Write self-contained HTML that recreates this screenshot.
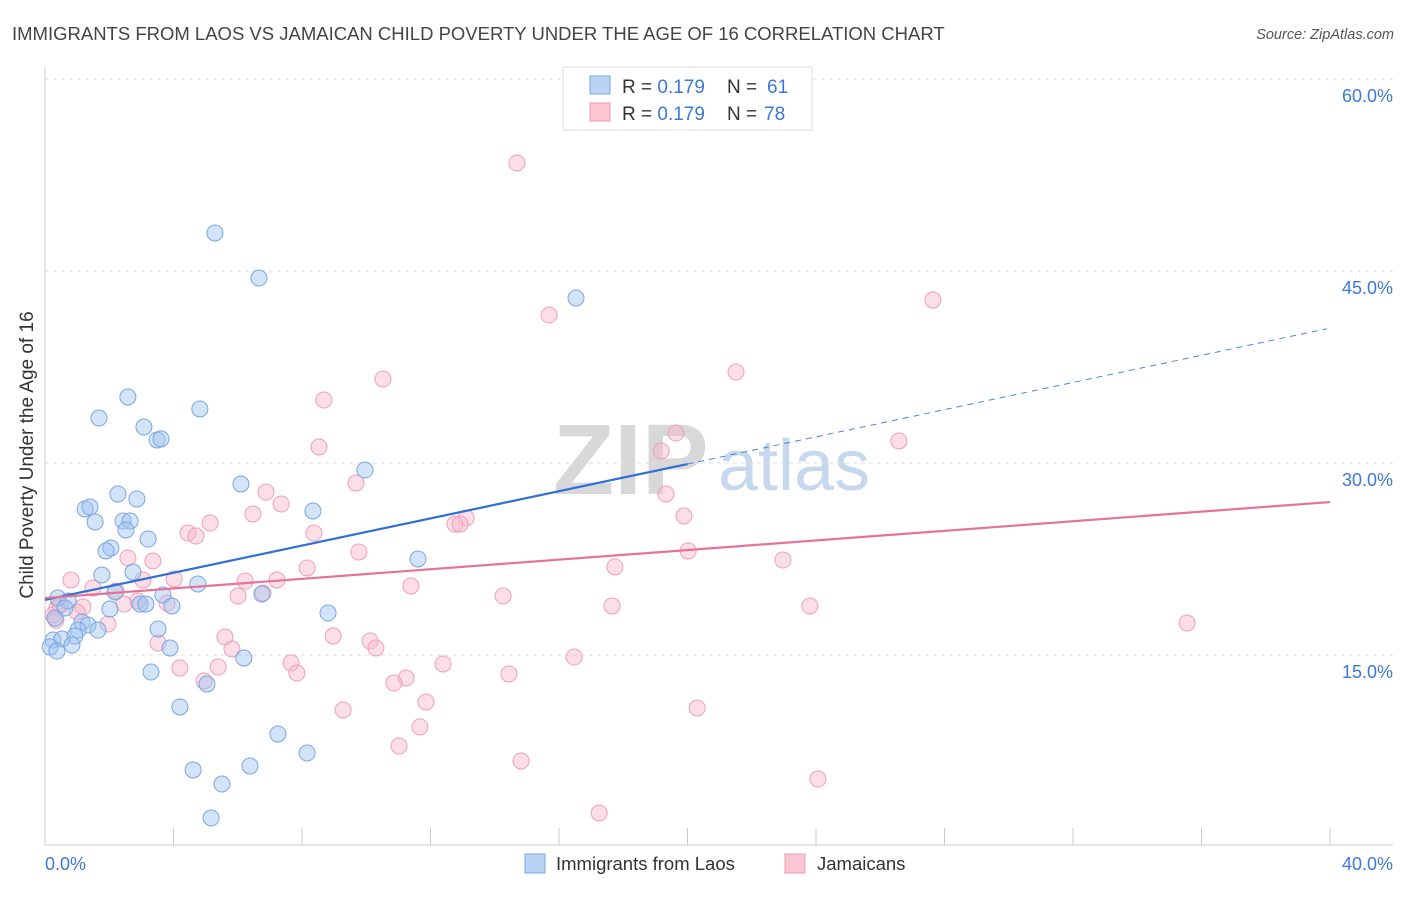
<!DOCTYPE html>
<html><head><meta charset="utf-8"><style>
body{margin:0;background:#fff;font-family:"Liberation Sans",sans-serif;}
svg text{font-family:"Liberation Sans",sans-serif;}
</style></head><body>
<svg id="chart" width="1406" height="892">
<text x="12" y="40" font-size="18.5" fill="#444">IMMIGRANTS FROM LAOS VS JAMAICAN CHILD POVERTY UNDER THE AGE OF 16 CORRELATION CHART</text>
<text x="1394" y="39" font-size="14.5" fill="#555" font-style="italic" text-anchor="end">Source: ZipAtlas.com</text>
<g>
<text x="553" y="494" font-size="100" fill="#d8d8d8" font-family="Liberation Serif,serif" font-weight="bold">ZIP</text>
<text x="718" y="490" font-size="72" fill="#c6d8ee">atlas</text>
</g>
<g id="grid"></g><g id="pts"></g><g id="lines"></g>
<text x="33" y="455" font-size="19" fill="#333" text-anchor="middle" transform="rotate(-90 33 455)">Child Poverty Under the Age of 16</text>
<g>
<rect x="563" y="67" width="249" height="63" fill="#fff" stroke="#ddd"/>
<rect x="590" y="76" width="20" height="18" fill="#b9d3f5" stroke="#7ba7e0"/>
<rect x="590" y="103" width="20" height="18" fill="#fac5d5" stroke="#ee9ab5"/>
<text x="622" y="93" font-size="19" fill="#333">R = <tspan fill="#3b78d8">0.179</tspan></text>
<text x="727" y="93" font-size="19" fill="#333">N = </text><text x="767" y="93" font-size="19" fill="#3b78d8">61</text>
<text x="622" y="120" font-size="19" fill="#333">R = <tspan fill="#3b78d8">0.179</tspan></text>
<text x="727" y="120" font-size="19" fill="#333">N = </text><text x="764" y="120" font-size="19" fill="#3b78d8">78</text>
</g>
<g>
<rect x="525" y="854" width="20" height="19" fill="#b9d3f5" stroke="#7ba7e0"/>
<text x="556" y="870" font-size="18.5" fill="#333">Immigrants from Laos</text>
<rect x="785" y="854" width="20" height="19" fill="#fac5d5" stroke="#ee9ab5"/>
<text x="817" y="870" font-size="18.5" fill="#333">Jamaicans</text>
</g>
</svg>
<script>
const xTicks=[0,4,8,12,16,20,24,28,32,36,40];
const yTicks=[15,30,45,60];
const yTickLabels=["15.0%","30.0%","45.0%","60.0%"];
const xEndLabels=["0.0%","40.0%"];
const laosX=[5.29,6.66,16.53,2.58,1.68,4.82,3.08,3.49,3.61,9.96,6.10,2.27,2.86,1.25,1.40,1.56,2.43,2.65,2.52,8.34,3.21,2.05,1.90,11.61,2.74,1.77,4.76,2.18,3.67,0.40,0.72,6.75,2.96,3.14,3.95,0.62,2.02,8.81,1.15,1.34,0.31,1.65,1.03,0.93,3.52,0.25,0.53,0.84,0.16,0.37,3.89,6.19,3.30,5.04,4.20,7.25,8.16,4.61,6.38,5.51,5.17];
const laosY=[47.97,44.45,42.89,35.16,33.52,34.22,32.81,31.80,31.88,29.45,28.36,27.58,27.19,26.41,26.56,25.39,25.47,25.47,24.77,26.25,24.06,23.36,23.13,22.5,21.48,21.25,20.55,19.92,19.69,19.45,19.22,19.77,18.98,18.98,18.83,18.67,18.59,18.28,17.58,17.34,17.89,16.95,16.95,16.48,17.03,16.17,16.25,15.78,15.63,15.31,15.55,14.77,13.67,12.73,10.94,8.83,7.34,6.02,6.33,4.92,2.27];
const jamX=[14.69,27.64,15.69,10.52,21.51,8.68,8.53,19.64,26.58,19.18,9.68,19.33,6.88,7.35,6.47,5.14,19.89,13.11,12.76,12.92,4.45,4.70,8.37,20.02,9.77,2.58,3.36,22.97,0.81,17.74,8.16,7.22,6.23,4.02,1.49,3.05,11.39,2.21,14.26,6.01,6.79,17.65,23.81,2.89,3.80,0.37,1.18,2.46,1.00,0.25,1.96,8.97,5.60,3.52,10.12,10.30,5.82,35.55,16.47,12.39,7.66,4.20,7.84,5.39,14.44,11.24,10.86,4.95,11.86,9.28,20.30,11.67,11.02,14.82,24.06,17.25,0.34,0.47];
const jamY=[53.44,42.73,41.56,36.56,37.11,34.92,31.25,32.34,31.72,30.94,28.44,27.58,27.73,26.80,26.02,25.31,25.86,25.70,25.23,25.23,24.53,24.30,24.53,23.13,23.05,22.58,22.34,22.42,20.86,21.88,21.80,20.86,20.78,20.94,20.23,20.86,20.39,20.0,19.61,19.61,19.84,18.83,18.83,19.22,19.06,18.67,18.75,18.98,18.36,18.13,17.42,16.48,16.41,15.94,16.09,15.55,15.47,17.50,14.84,14.30,14.38,13.98,13.59,14.06,13.52,13.20,12.81,12.97,11.33,10.70,10.86,9.38,7.89,6.72,5.31,2.66,17.73,18.91];
const laosTrend=[19.30,0.531];
const jamTrend=[19.45,0.1875];
const NS="http://www.w3.org/2000/svg";
const sx=v=>45+v*1285/40, sy=v=>847-v*12.8;
function mk(tag,attrs,parent){const e=document.createElementNS(NS,tag);for(const k in attrs)e.setAttribute(k,attrs[k]);parent.appendChild(e);return e;}
const grid=document.getElementById('grid');
let ax=mk('line',{x1:45,y1:67,x2:45,y2:845,stroke:'#ccc'},grid);


let bx=mk('line',{x1:45,y1:845,x2:1393,y2:845,stroke:'#ccc'},grid);


yTicks.forEach((t,i)=>{
 const g=mk('line',{x1:45,y1:sy(t),x2:1393,y2:sy(t),stroke:'#ddd','stroke-dasharray':'4,4'},grid);
 
 
 const tx=mk('text',{x:1393,y:sy(t)+23,'font-size':18,fill:'#3b78d8','text-anchor':'end'},grid);
 tx.textContent=yTickLabels[i];
 
 
});
xTicks.forEach(t=>{
 const l=mk('line',{x1:sx(t),y1:828,x2:sx(t),y2:845,stroke:'#ccc'},grid);
 
 
});
const xl0=mk('text',{x:45,y:870,'font-size':18,fill:'#3b78d8'},grid);xl0.textContent=xEndLabels[0];


const xl1=mk('text',{x:1393,y:870,'font-size':18,fill:'#3b78d8','text-anchor':'end'},grid);xl1.textContent=xEndLabels[1];


const pts=document.getElementById('pts');
jamX.forEach((x,i)=>{
 const c=mk('circle',{cx:sx(x),cy:sy(jamY[i]),r:8,fill:'rgba(248,182,202,0.45)',stroke:'#eea0ba','stroke-width':1},pts);
 
 
});
laosX.forEach((x,i)=>{
 const c=mk('circle',{cx:sx(x),cy:sy(laosY[i]),r:8,fill:'rgba(160,196,240,0.45)',stroke:'#78a6e2','stroke-width':1},pts);
 
 
});
const lines=document.getElementById('lines');
const f=(t,x)=>t[0]+t[1]*x;
const a=mk('line',{x1:sx(0),y1:sy(f(laosTrend,0)),x2:sx(20),y2:sy(f(laosTrend,20)),stroke:'#2f6fd6','stroke-width':2.2},lines);


const b=mk('line',{x1:sx(20),y1:sy(f(laosTrend,20)),x2:sx(39.9),y2:sy(f(laosTrend,39.9)),stroke:'#4a84dc','stroke-width':1,'stroke-dasharray':'6,5'},lines);


const c=mk('line',{x1:sx(0),y1:sy(f(jamTrend,0)),x2:sx(40),y2:sy(f(jamTrend,40)),stroke:'#e5729a','stroke-width':2.2},lines);


</script>
</body></html>
